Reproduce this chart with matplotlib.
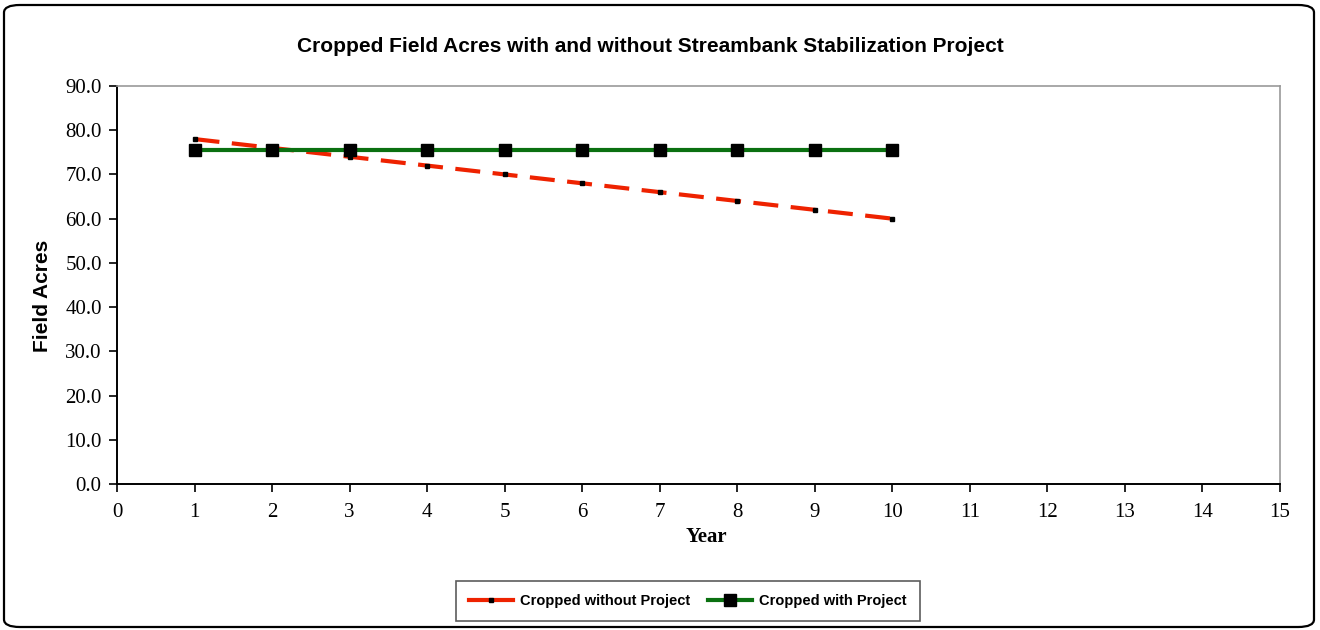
import matplotlib
matplotlib.use("Agg")
import matplotlib.pyplot as plt
from matplotlib.patches import FancyBboxPatch
from matplotlib.lines import Line2D

years = [1, 2, 3, 4, 5, 6, 7, 8, 9, 10]
without_project = [78.0, 76.0, 74.0, 72.0, 70.0, 68.0, 66.0, 64.0, 62.0, 60.0]
with_project = [75.5, 75.5, 75.5, 75.5, 75.5, 75.5, 75.5, 75.5, 75.5, 75.5]
x_ticks = list(range(0, 16))
y_ticks = [0, 10, 20, 30, 40, 50, 60, 70, 80, 90]

W, H = 1320, 630
fig = plt.figure(figsize=(W / 100, H / 100), dpi=100, facecolor="white")

sans = ["Liberation Sans", "DejaVu Sans"]
serif = ["Liberation Serif", "DejaVu Serif"]

ax = fig.add_axes([117 / W, 1 - 484 / H, (1280 - 117) / W, (484 - 86) / H])
ax.set_facecolor("white")

red = "#ee2200"
green = "#0a7010"
ax.plot(years, without_project, color=red, linewidth=3,
        dashes=(6, 3), marker="s", markersize=3.5,
        markerfacecolor="black", markeredgecolor="black", zorder=3)
ax.plot(years, with_project, color=green, linewidth=3,
        marker="s", markersize=8,
        markerfacecolor="black", markeredgecolor="black", zorder=4)

ax.set_xlim(0, 15)
ax.set_ylim(0, 90)
ax.set_xticks(x_ticks)
ax.set_yticks(y_ticks)
ax.set_yticklabels([f"{v:.1f}" for v in y_ticks])

for lab in ax.get_xticklabels() + ax.get_yticklabels():
    lab.set_fontfamily(serif)
    lab.set_fontsize(15)

ax.tick_params(axis="both", direction="out", length=6, width=1.2, color="black")
ax.tick_params(axis="x", pad=8)
ax.tick_params(axis="y", pad=5)

for side in ("left", "bottom"):
    ax.spines[side].set_color("black")
    ax.spines[side].set_linewidth(1.4)
for side in ("top", "right"):
    ax.spines[side].set_color("#999999")
    ax.spines[side].set_linewidth(1.2)

# rounded chart-area frame
frame = FancyBboxPatch((4 / W, 3 / H), (W - 10) / W, (H - 8) / H,
                       boxstyle="round,pad=0,rounding_size=0.012",
                       transform=fig.transFigure, facecolor="none",
                       edgecolor="black", linewidth=1.6, zorder=10)
fig.patches.append(frame)

fig.text(650 / W, 1 - 46 / H,
         "Cropped Field Acres with and without Streambank Stabilization Project",
         ha="center", va="center", fontsize=15, fontweight="bold", family=sans)

fig.text(43 / W, 1 - 296 / H, "Field Acres", rotation=90, ha="center", va="center",
         fontsize=15, fontweight="bold", family=sans)

fig.text(706 / W, 1 - 537 / H, "Year", ha="center", va="center",
         fontsize=15, fontweight="bold", family=serif)

handles = [
    Line2D([], [], color=red, linewidth=3, marker="s", markersize=3.5,
           markerfacecolor="black", markeredgecolor="black"),
    Line2D([], [], color=green, linewidth=3, marker="s", markersize=8,
           markerfacecolor="black", markeredgecolor="black"),
]
leg = fig.legend(handles, ["Cropped without Project", "Cropped with Project"],
                 loc="center", bbox_to_anchor=(688 / W, 1 - 601 / H),
                 ncol=2, frameon=True, fancybox=False, edgecolor="#333333",
                 prop={"family": sans, "weight": "bold", "size": 10.5},
                 handlelength=3.0, handletextpad=0.5, columnspacing=1.2,
                 borderpad=0.9, numpoints=1)
leg.get_frame().set_linewidth(1.2)

fig.savefig("out.png", dpi=100, facecolor="white")
